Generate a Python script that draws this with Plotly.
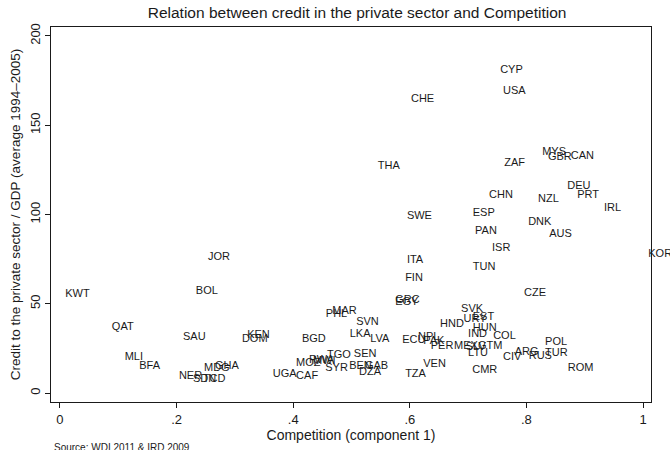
import plotly.graph_objects as go

# Country codes
countries = [
    "KWT", "BOL", "QAT", "SAU", "KEN", "DOM", "BGD", "MLI", "BFA", "MOZ",
    "NER", "SDN", "TCD", "MDG", "GHA", "UGA", "CAF", "RWA", "MWI", "TGO",
    "SYR", "SEN", "BEN", "DZA", "GAB", "TZA", "CZE", "MAR", "PHL", "SVN",
    "GRC", "EGY", "SVK", "URY", "EST", "HND", "HUN", "IND", "COL", "LKA",
    "LVA", "ECU", "NPL", "PAK", "PER", "MEX", "SLV", "GTM", "LTU", "CIV",
    "ARG", "RUS", "TUR", "POL", "ROM", "VEN", "CMR", "FIN", "CYP", "USA",
    "CHE", "THA", "ZAF", "MYS", "GBR", "CAN", "DEU", "PRT", "IRL", "CHN",
    "NZL", "SWE", "ESP", "DNK", "PAN", "AUS", "ISR", "ITA", "TUN", "KOR",
    "JOR",
]

# Competition index (component 1)
competition = [
    0.003, 0.227, 0.083, 0.205, 0.315, 0.306, 0.409, 0.105, 0.130, 0.399,
    0.198, 0.222, 0.239, 0.241, 0.260, 0.359, 0.399, 0.421, 0.428, 0.452,
    0.449, 0.498, 0.490, 0.507, 0.517, 0.586, 0.790, 0.461, 0.450, 0.502,
    0.569, 0.569, 0.682, 0.686, 0.702, 0.646, 0.702, 0.694, 0.737, 0.491,
    0.526, 0.581, 0.608, 0.617, 0.630, 0.670, 0.690, 0.711, 0.694, 0.754,
    0.774, 0.798, 0.826, 0.826, 0.865, 0.617, 0.701, 0.586, 0.749, 0.754,
    0.596, 0.539, 0.756, 0.821, 0.831, 0.870, 0.864, 0.881, 0.927, 0.730,
    0.814, 0.589, 0.702, 0.797, 0.706, 0.833, 0.735, 0.589, 0.702, 1.003,
    0.248,
]

# Private credit / GDP, average 1994-2005
credit = [
    55.6, 57.2, 36.7, 31.1, 32.2, 30.0, 30.0, 20.0, 15.0, 16.7,
    9.4, 7.8, 7.8, 13.9, 15.0, 10.6, 9.4, 18.3, 17.8, 21.1,
    13.9, 21.7, 15.0, 11.7, 15.0, 10.6, 56.1, 46.1, 43.9, 39.4,
    52.2, 50.6, 46.7, 41.1, 42.2, 38.3, 36.1, 32.8, 31.7, 32.8,
    30.0, 29.4, 31.1, 28.9, 26.1, 26.1, 25.6, 26.1, 22.2, 20.0,
    22.8, 20.6, 22.2, 28.3, 13.9, 16.1, 12.8, 64.4, 180.6, 168.9,
    164.4, 127.2, 128.9, 135.0, 132.2, 132.8, 115.6, 110.6, 103.3, 110.6,
    108.3, 98.9, 100.6, 95.6, 90.6, 88.9, 81.1, 74.4, 70.6, 77.8,
    76.1,
]

x_tickvals = [0, 0.2, 0.4, 0.6, 0.8, 1]
x_ticktext = ["0", ".2", ".4", ".6", ".8", "1"]
y_tickvals = [0, 50, 100, 150, 200]
y_ticktext = ["0", "50", "100", "150", "200"]

FONT = "Liberation Sans, Arial, sans-serif"
INK = "#1a1a1a"

fig = go.Figure()
fig.add_trace(go.Scatter(
    x=competition,
    y=credit,
    mode="markers+text",
    text=countries,
    textposition="middle right",
    textfont=dict(family=FONT, size=11, color=INK),
    marker=dict(size=4, opacity=0),
    cliponaxis=False,
    hoverinfo="text",
    showlegend=False,
))

fig.update_layout(
    width=670,
    height=450,
    margin=dict(l=51, r=19, t=27, b=45),
    paper_bgcolor="white",
    plot_bgcolor="white",
    font=dict(family=FONT, color=INK),
    title=dict(
        text="Relation between credit in the private sector and Competition",
        x=0.533, xanchor="center", y=0.973, yanchor="middle",
        font=dict(family=FONT, size=15.5, color=INK),
    ),
    xaxis=dict(
        range=[-0.0154, 1.0137],
        tickvals=x_tickvals,
        ticktext=x_ticktext,
        ticks="outside",
        ticklen=5,
        tickwidth=1,
        tickcolor=INK,
        tickfont=dict(size=13, color=INK),
        showgrid=False,
        zeroline=False,
        showline=True,
        linecolor=INK,
        linewidth=1,
        mirror=True,
        title=dict(text="Competition (component 1)", font=dict(size=14, color=INK), standoff=2),
    ),
    yaxis=dict(
        range=[-5, 205],
        tickvals=y_tickvals,
        ticktext=y_ticktext,
        tickangle=-90,
        ticks="outside",
        ticklen=5,
        tickwidth=1,
        tickcolor=INK,
        tickfont=dict(size=13, color=INK),
        showgrid=False,
        zeroline=False,
        showline=True,
        linecolor=INK,
        linewidth=1,
        mirror=True,
        title=dict(text="Credit to the private sector / GDP (average 1994\u20132005)",
                   font=dict(size=13.5, color=INK), standoff=4),
    ),
    annotations=[dict(
        text="Source: WDI 2011 & IRD 2009",
        xref="paper", yref="paper",
        x=0.002, y=-0.100,
        xanchor="left", yanchor="top",
        showarrow=False,
        font=dict(family=FONT, size=10, color=INK),
    )],
)

fig.write_html("out.html")
